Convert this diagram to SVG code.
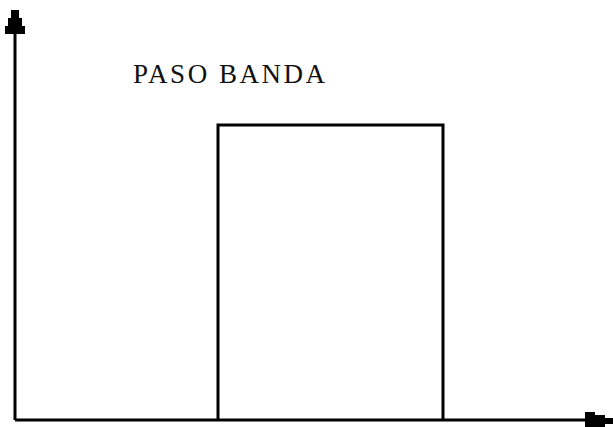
<svg xmlns="http://www.w3.org/2000/svg" width="613" height="427" viewBox="0 0 613 427">
<style>
.ax{stroke:#000;stroke-width:3;fill:none}
.box{stroke:#000;stroke-width:3;fill:none}
.lbl{font-family:"Liberation Serif",serif;font-size:27px;fill:#111}
</style>
<rect width="613" height="427" fill="#fff"/>
<g id="connectors">
<line class="ax" x1="15" y1="30" x2="15" y2="420"/>
<polygon points="15,10 19,10 19,18 22,18 22,26 25,26 25,34 5,34 5,26 8,26 8,18 11,18 11,10" fill="#000"/>
<line class="ax" x1="15" y1="420" x2="592" y2="420"/>
<polygon points="585,412 595,412 595,415 605,415 605,418 613,418 613,424 605,424 605,427 585,427" fill="#000"/>
</g>
<g id="passband">
<polyline class="box" points="218,420 218,125 443,125 443,420"/>
</g>
<g id="label">
<text class="lbl" x="133" y="83" textLength="192" lengthAdjust="spacing">PASO BANDA</text>
</g>
</svg>
